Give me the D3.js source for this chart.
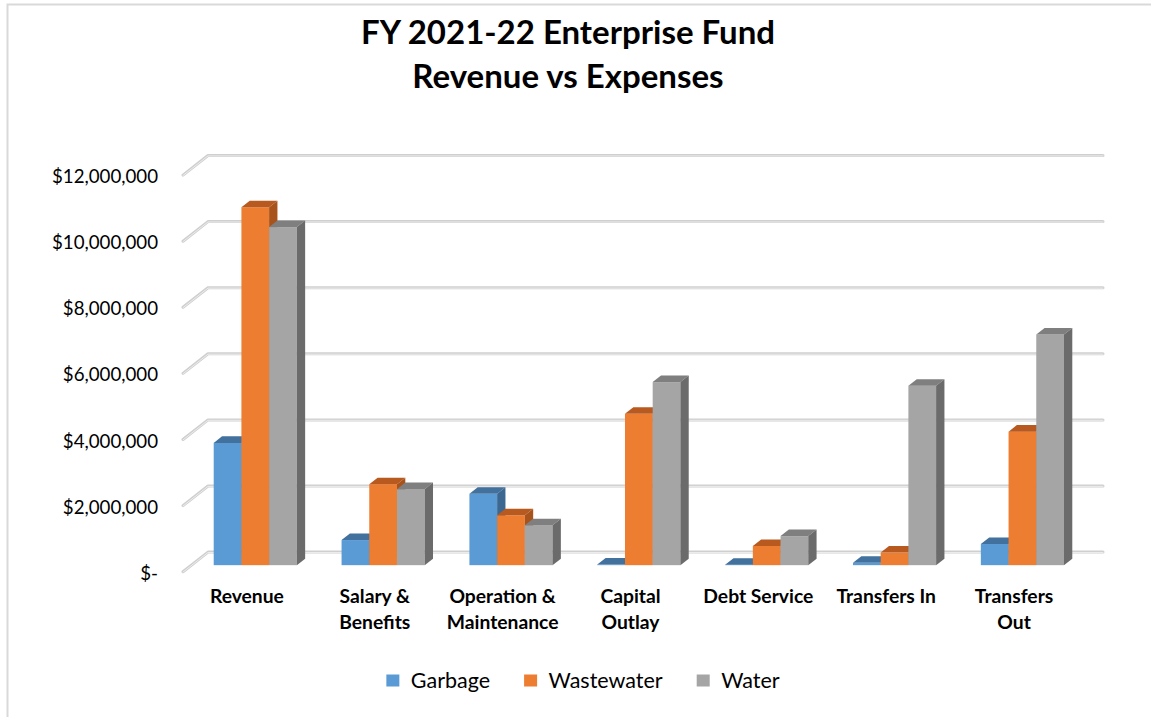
<!DOCTYPE html>
<html>
<head>
<meta charset="utf-8">
<script src="https://cdn.jsdelivr.net/npm/d3@7"></script>
<style>
  html, body { margin: 0; padding: 0; background: #fff; }
  svg { display: block; }
  text { font-family: Lato, "Open Sans", sans-serif; fill: #000; }
</style>
</head>
<body>
<svg id="chart" width="1151" height="717"></svg>
<script>
// Enterprise fund budget, FY 2021-22 (dollars)
const categories = ["Revenue", "Salary & Benefits", "Operation & Maintenance",
                    "Capital Outlay", "Debt Service", "Transfers In", "Transfers Out"];
const categoryLines = [["Revenue"], ["Salary &", "Benefits"], ["Operation &", "Maintenance"],
                       ["Capital", "Outlay"], ["Debt Service"], ["Transfers In"], ["Transfers", "Out"]];
const seriesNames = ["Garbage", "Wastewater", "Water"];
const garbage    = [3700000,   760000, 2160000,   20000,   15000,   70000,  640000];
const wastewater = [10830000, 2450000, 1510000, 4580000,  580000,  380000, 4040000];
const water      = [10230000, 2300000, 1210000, 5540000,  880000, 5430000, 6980000];
const tickValues = [0, 2000000, 4000000, 6000000, 8000000, 10000000, 12000000];
const tickLabels = ["$-", "$2,000,000", "$4,000,000", "$6,000,000", "$8,000,000", "$10,000,000", "$12,000,000"];
const titleLines = ["FY 2021-22 Enterprise Fund", "Revenue vs Expenses"];

const seriesValues = [garbage, wastewater, water];
const palette = {
  front: ["#5b9bd5", "#ed7d31", "#a5a5a5"],
  top:   ["#41719c", "#b85a1f", "#7f7f7f"],
  side:  ["#3b6791", "#a8531c", "#6b6b6b"]
};

const svg = d3.select("#chart");

// outer chart-area frame
svg.append("rect")
  .attr("x", 7.5).attr("y", 4.5).attr("width", 1200).attr("height", 800)
  .attr("fill", "none").attr("stroke", "#d9d9d9").attr("stroke-width", 2);

// oblique 3D geometry: front floor edge, and full depth vector
const floorLeft = 183, floorRight = 1078, baseY = 571.7;
const depth = [25, -19.6];
const barFrac = 1 / 3;             // bars occupy the middle third of the depth
const bx = depth[0] * barFrac, by = depth[1] * barFrac;

const y = d3.scaleLinear().domain([0, 12000000]).range([baseY, baseY - 396.6]);
const x = d3.scaleBand().domain(categories).range([floorLeft, floorRight])
  .paddingInner(0.35).paddingOuter(0.175);
const xs = d3.scaleBand().domain(seriesNames).range([0, x.bandwidth()]);

// gridlines: short diagonal on the side wall, then the back-wall line
const grid = svg.append("g");
tickValues.forEach(v => {
  const yf = y(v), yb = yf + depth[1];
  const pts = [[floorLeft, yf], [floorLeft + depth[0], yb], [floorRight + depth[0], yb]];
  grid.append("path").attr("d", d3.line()(pts))
    .attr("fill", "none").attr("stroke", "#cfcfcf").attr("stroke-width", 3)
    .attr("stroke-linecap", "round").attr("stroke-linejoin", "round");
  grid.append("path").attr("d", d3.line()(pts.map(p => [p[0], p[1] + 0.4])))
    .attr("fill", "none").attr("stroke", "#ececec").attr("stroke-width", 1)
    .attr("stroke-linecap", "round");
});

// y axis labels
svg.append("g").selectAll("text").data(tickValues).join("text")
  .attr("x", 158).attr("y", v => y(v) + 1)
  .attr("text-anchor", "end").attr("dominant-baseline", "central")
  .attr("font-size", 18.7)
  .text((v, i) => tickLabels[i]);

// bars, painted left to right so each bar hides its neighbour's side face
const bars = svg.append("g");
categories.forEach((c, ci) => {
  seriesNames.forEach((s, si) => {
    const v = seriesValues[si][ci];
    const x0 = x(c) + xs(s) + bx, x1 = x0 + xs.bandwidth();
    const y0 = y(0) + by, y1 = y(v) + by;
    const g = bars.append("g");
    g.append("rect").attr("x", x0).attr("y", y1).attr("width", x1 - x0).attr("height", y0 - y1)
      .attr("fill", palette.front[si]);
    g.append("path")
      .attr("d", d3.line()([[x0, y1], [x1, y1], [x1 + bx, y1 + by], [x0 + bx, y1 + by]]) + "Z")
      .attr("fill", palette.top[si]);
    g.append("path")
      .attr("d", d3.line()([[x1, y1], [x1 + bx, y1 + by], [x1 + bx, y0 + by], [x1, y0]]) + "Z")
      .attr("fill", palette.side[si]);
  });
});

// category labels
const catG = svg.append("g");
categories.forEach((c, ci) => {
  const t = catG.append("text")
    .attr("x", x(c) + x.bandwidth() / 2).attr("y", 603)
    .attr("text-anchor", "middle").attr("font-size", 19.3).attr("font-weight", "bold");
  categoryLines[ci].forEach((line, li) => {
    t.append("tspan").attr("x", x(c) + x.bandwidth() / 2).attr("dy", li === 0 ? 0 : 26).text(line);
  });
});

// title
svg.append("g").selectAll("text").data(titleLines).join("text")
  .attr("x", 568).attr("y", (d, i) => 44 + i * 44)
  .attr("text-anchor", "middle").attr("font-size", 33).attr("font-weight", "bold")
  .text(d => d);

// legend, laid out from measured text widths and centred
const legend = svg.append("g");
const sq = 13, gapText = 11.5, gapItem = 34;
let cursor = 0;
seriesNames.forEach((name, i) => {
  const g = legend.append("g");
  g.append("rect").attr("x", 0).attr("y", -5.5).attr("width", sq).attr("height", sq - 1)
    .attr("fill", palette.front[i]);
  const t = g.append("text").attr("x", sq + gapText).attr("y", 0)
    .attr("dominant-baseline", "central").attr("font-size", 21.5).text(name);
  const w = sq + gapText + t.node().getComputedTextLength();
  g.attr("transform", `translate(${cursor},0)`);
  cursor += w + gapItem;
});
const legendWidth = cursor - gapItem;
legend.attr("transform", `translate(${583 - legendWidth / 2},680)`);
</script>
</body>
</html>
